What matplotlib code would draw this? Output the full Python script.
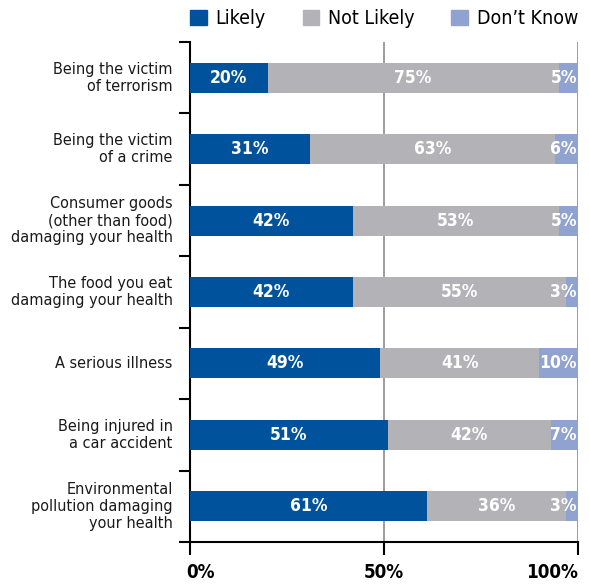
import numpy as np
import matplotlib
matplotlib.use("Agg")
import matplotlib.pyplot as plt
from matplotlib.patches import Patch
from matplotlib.transforms import offset_copy

plt.rcParams["font.family"] = ["DejaVu Sans"]
plt.rcParams["font.stretch"] = "condensed"

categories = [
    "Being the victim\nof terrorism",
    "Being the victim\nof a crime",
    "Consumer goods\n(other than food)\ndamaging your health",
    "The food you eat\ndamaging your health",
    "A serious illness",
    "Being injured in\na car accident",
    "Environmental\npollution damaging\nyour health",
]
likely = [20, 31, 42, 42, 49, 51, 61]
not_likely = [75, 63, 53, 55, 41, 42, 36]
dont_know = [5, 6, 5, 3, 10, 7, 3]

series_names = ["Likely", "Not Likely", "Don\u2019t Know"]
colors = ["#00529c", "#b3b3b7", "#8fa2d0"]

fig = plt.figure(figsize=(5.89, 5.85), dpi=100)
ax = fig.add_axes([190 / 589, 1 - 542 / 585, 388 / 589, 500 / 585])

y = np.arange(len(categories))
h = 0.42
ax.barh(y, likely, height=h, color=colors[0], zorder=3)
ax.barh(y, not_likely, left=likely, height=h, color=colors[1], zorder=3)
left3 = np.array(likely) + np.array(not_likely)
ax.barh(y, dont_know, left=left3, height=h, color=colors[2], zorder=3)

lbl = dict(color="white", fontweight="bold", fontsize=12.5, va="center", zorder=4)
for i in range(len(categories)):
    ax.text(likely[i] / 2, y[i], f"{likely[i]}%", ha="center", **lbl)
    ax.text(likely[i] + not_likely[i] / 2, y[i], f"{not_likely[i]}%", ha="center", **lbl)
    ax.text(left3[i] + dont_know[i] - 0.3, y[i], f"{dont_know[i]}%", ha="right", **lbl)

ax.set_xlim(0, 100)
ax.set_ylim(len(categories) - 0.5, -0.5)

# gridlines at 50% and 100%
for gx in (50, 100):
    ax.axvline(gx, color="#8c8c8c", lw=1.2, zorder=1)

for s in ("top", "right"):
    ax.spines[s].set_visible(False)
ax.spines["left"].set_linewidth(1.5)
ax.spines["bottom"].set_linewidth(1.5)

ax.set_xticks([0, 50, 100])
ax.set_xticklabels(["0%", "50%", "100%"], fontsize=13.5, fontweight="bold")
ax.tick_params(axis="x", direction="out", length=9, width=1.5, pad=6)
for t, ha in zip(ax.get_xticklabels(), ["left", "center", "right"]):
    t.set_ha(ha)
# nudge the first tick label slightly left of the axis
first = ax.get_xticklabels()[0]
first.set_transform(offset_copy(first.get_transform(), fig=fig, x=-4, units="dots"))

# category labels between boundary ticks
ax.set_yticks(np.arange(-0.5, len(categories)), minor=False)
ax.set_yticklabels([])
ax.tick_params(axis="y", direction="out", length=8, width=1.5)
for i, c in enumerate(categories):
    ax.text(-0.045, y[i], c, transform=ax.get_yaxis_transform(), ha="right",
            va="center", fontsize=11.6, color="#1a1a1a", linespacing=1.15)

handles = [Patch(color=c) for c in colors]
fig.legend(handles, series_names, loc="center", bbox_to_anchor=(0.652, 0.968),
           ncol=3, frameon=False, fontsize=14, handlelength=0.85, handleheight=0.85,
           handletextpad=0.45, columnspacing=1.9)

fig.savefig("out.png", dpi=100)
